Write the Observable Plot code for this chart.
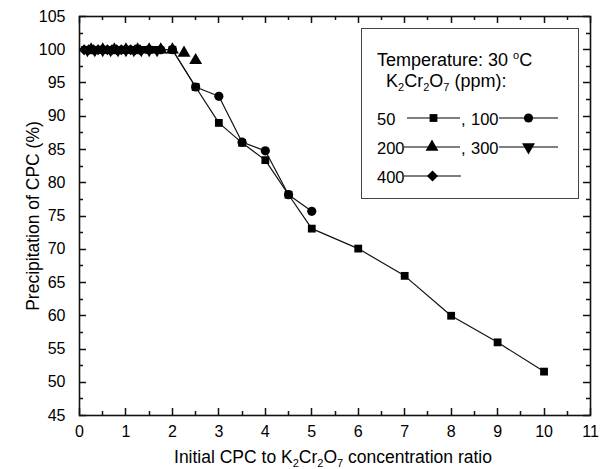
<!DOCTYPE html>
<html>
<head>
<meta charset="utf-8">
<script src="https://cdn.jsdelivr.net/npm/d3@7"></script>
<script src="https://cdn.jsdelivr.net/npm/@observablehq/plot@0.6"></script>
<style>
  html, body { margin: 0; padding: 0; background: #fff; }
  #wrap { width: 606px; height: 469px; }
</style>
</head>
<body>
<div id="wrap"></div>
<script>
// ---- data ----
const ratio50  = [0.5, 1, 1.5, 2, 2.5, 3, 3.5, 4, 4.5, 5, 6, 7, 8, 9, 10];
const prec50   = [100, 100, 100, 100, 94.4, 89.0, 86.0, 83.4, 78.2, 73.1, 70.1, 66.0, 60.0, 56.0, 51.6];
const ratio100 = [0.25, 0.5, 0.75, 1, 1.25, 1.5, 1.75, 2, 2.5, 3, 3.5, 4, 4.5, 5];
const prec100  = [100, 100, 100, 100, 100, 100, 100, 100, 94.4, 93.0, 86.1, 84.8, 78.2, 75.7];
const ratio200 = [0.25, 0.5, 0.75, 1, 1.25, 1.5, 1.75, 2, 2.25, 2.5];
const prec200  = [100, 100, 100, 100, 100, 100, 100, 100, 99.5, 98.4];
const ratio300 = [0.17, 0.33, 0.5, 0.67, 0.83, 1, 1.17, 1.33, 1.5, 1.67];
const prec300  = [100, 100, 100, 100, 100, 100, 100, 100, 100, 100];
const ratio400 = [0.1, 0.2, 0.3, 0.4, 0.5, 0.6, 0.7, 0.8, 0.9, 1.0, 1.1, 1.2, 1.3];
const prec400  = [100, 100, 100, 100, 100, 100, 100, 100, 100, 100, 100, 100, 100];

const xMajor = [0, 1, 2, 3, 4, 5, 6, 7, 8, 9, 10, 11];
const xMinor = [0.5, 1.5, 2.5, 3.5, 4.5, 5.5, 6.5, 7.5, 8.5, 9.5, 10.5];
const yMajor = [45, 50, 55, 60, 65, 70, 75, 80, 85, 90, 95, 100, 105];
const yMinor = [47.5, 52.5, 57.5, 62.5, 67.5, 72.5, 77.5, 82.5, 87.5, 92.5, 97.5, 102.5];

const toRows = (xs, ys) => xs.map((x, i) => ({x, y: ys[i]}));
const s50 = toRows(ratio50, prec50);
const s100 = toRows(ratio100, prec100);
const s200 = toRows(ratio200, prec200);
const s300 = toRows(ratio300, prec300);
const s400 = toRows(ratio400, prec400);

const triDown = {
  draw(context, size) {
    const y = -Math.sqrt(size / (3 * Math.sqrt(3)));
    context.moveTo(0, -2 * y);
    context.lineTo(-Math.sqrt(3) * y, y);
    context.lineTo(Math.sqrt(3) * y, y);
    context.closePath();
  }
};

const FONT = "Liberation Sans, Arial, sans-serif";
const tickFS = 16;
const W = 606, H = 469, ML = 79, MR = 16, MT = 16, MB = 54;
const XD = [0, 11], YD = [45, 105];

const chart = Plot.plot({
  width: W,
  height: H,
  marginLeft: ML,
  marginRight: MR,
  marginTop: MT,
  marginBottom: MB,
  style: {fontFamily: FONT, fontSize: tickFS + "px"},
  x: {domain: XD},
  y: {domain: YD},
  marks: [
    Plot.frame({stroke: "#111", strokeWidth: 1.6}),
    // tick labels
    Plot.axisX(xMajor, {anchor: "bottom", tickSize: 0, tickPadding: 10, fontSize: tickFS, label: null}),
    Plot.axisY(yMajor, {anchor: "left", tickSize: 0, tickPadding: 14, fontSize: tickFS, label: null}),
    // lines
    Plot.line(s50, {x: "x", y: "y", stroke: "#111", strokeWidth: 1.2}),
    Plot.line(s100, {x: "x", y: "y", stroke: "#111", strokeWidth: 1.2}),
    // markers
    Plot.dot(s50, {x: "x", y: "y", symbol: "square", r: 4.4, fill: "black", stroke: "none"}),
    Plot.dot(s100, {x: "x", y: "y", symbol: "circle", r: 4.6, fill: "black", stroke: "none"}),
    Plot.dot(s200, {x: "x", y: "y", symbol: "triangle", r: 4.8, fill: "black", stroke: "none"}),
    Plot.dot(s300, {x: "x", y: "y", symbol: triDown, r: 4.8, fill: "black", stroke: "none"}),
    Plot.dot(s400, {x: "x", y: "y", symbol: "diamond2", r: 5, fill: "black", stroke: "none"})
  ]
});

document.getElementById("wrap").appendChild(chart);

// inward ticks on all four sides, positioned through Plot's own scales
const scX = chart.scale("x"), scY = chart.scale("y");
const fx = d3.scaleLinear(XD, [ML, W - MR]), fy = d3.scaleLinear(YD, [H - MB, MT]);
const px = v => { const p = scX && scX.apply ? scX.apply(v) : NaN; return isFinite(p) ? p : fx(v); };
const py = v => { const p = scY && scY.apply ? scY.apply(v) : NaN; return isFinite(p) ? p : fy(v); };
const xL = px(XD[0]), xR = px(XD[1]), yB = py(YD[0]), yT = py(YD[1]);
let path = "";
const vt = (vals, len) => vals.forEach(v => {
  const x = Math.round(px(v)) + 0.5;
  path += `M${x},${yB}V${yB - len}M${x},${yT}V${yT + len}`;
});
const ht = (vals, len) => vals.forEach(v => {
  const y = Math.round(py(v)) + 0.5;
  path += `M${xL},${y}H${xL + len}M${xR},${y}H${xR - len}`;
});
vt(xMajor, 7); vt(xMinor, 4);
ht(yMajor, 7); ht(yMinor, 4);
d3.select(chart).append("path").attr("d", path).attr("fill", "none")
  .attr("stroke", "#111").attr("stroke-width", 1.5);

// axis titles and legend, added inside the Plot SVG
const svg = d3.select(chart).append("g").attr("font-family", FONT).attr("text-anchor", "start");

const TFS = 17.5;
const xt = svg.append("text").attr("x", 333).attr("y", 463).attr("text-anchor", "middle")
  .attr("font-size", TFS).attr("fill", "black");
xt.append("tspan").text("Initial CPC to K");
xt.append("tspan").attr("font-size", 11).attr("dy", 4).text("2");
xt.append("tspan").attr("dy", -4).text("Cr");
xt.append("tspan").attr("font-size", 11).attr("dy", 4).text("2");
xt.append("tspan").attr("dy", -4).text("O");
xt.append("tspan").attr("font-size", 11).attr("dy", 4).text("7");
xt.append("tspan").attr("dy", -4).text(" concentration ratio");

svg.append("text").attr("transform", "translate(39,216) rotate(-90)").attr("text-anchor", "middle")
  .attr("font-size", TFS).attr("fill", "black").text("Precipitation of CPC (%)");

const lg = svg.append("g");
lg.append("rect").attr("x", 361.5).attr("y", 28.5).attr("width", 217).attr("height", 170)
  .attr("fill", "white").attr("stroke", "#444").attr("stroke-width", 1);

const LFS = 18;
const t1 = lg.append("text").attr("x", 377).attr("y", 66).attr("font-size", LFS).attr("fill", "black");
t1.append("tspan").text("Temperature: 30 ");
t1.append("tspan").attr("font-size", 11).attr("dy", -7).text("o");
t1.append("tspan").attr("dy", 7).text("C");

const t2 = lg.append("text").attr("x", 386).attr("y", 87).attr("font-size", LFS).attr("fill", "black");
t2.append("tspan").text("K");
t2.append("tspan").attr("font-size", 11).attr("dy", 4).text("2");
t2.append("tspan").attr("dy", -4).text("Cr");
t2.append("tspan").attr("font-size", 11).attr("dy", 4).text("2");
t2.append("tspan").attr("dy", -4).text("O");
t2.append("tspan").attr("font-size", 11).attr("dy", 4).text("7");
t2.append("tspan").attr("dy", -4).text(" (ppm):");

const sym = (name) => {
  if (name === "square") return d3.symbol(d3.symbolSquare, Math.PI * 4.4 * 4.4)();
  if (name === "circle") return d3.symbol(d3.symbolCircle, Math.PI * 4.6 * 4.6)();
  if (name === "triangle") return d3.symbol(d3.symbolTriangle, Math.PI * 4.8 * 4.8)();
  if (name === "down") return d3.symbol(triDown, Math.PI * 4.8 * 4.8)();
  return d3.symbol(d3.symbolDiamond2, Math.PI * 5 * 5)();
};
const entry = (x1, x2, cy, name) => {
  lg.append("line").attr("x1", x1).attr("x2", x2).attr("y1", cy).attr("y2", cy).attr("stroke", "black").attr("stroke-width", 1.2);
  lg.append("path").attr("d", sym(name)).attr("transform", `translate(${(x1 + x2) / 2},${cy})`).attr("fill", "black");
};
const label = (x, cy, txt) => lg.append("text").attr("x", x).attr("y", cy + 6.5).attr("font-size", 16.5).attr("fill", "black").text(txt);

label(377, 118, "50");
entry(407, 460, 118, "square");
label(461, 118, ",");
label(471, 118, "100");
entry(499, 558, 118, "circle");

label(377, 147, "200");
entry(404, 460, 147, "triangle");
label(461, 147, ",");
label(471, 147, "300");
entry(499, 558, 147, "down");

label(377, 176, "400");
entry(404, 461, 176, "diamond");
</script>
</body>
</html>
